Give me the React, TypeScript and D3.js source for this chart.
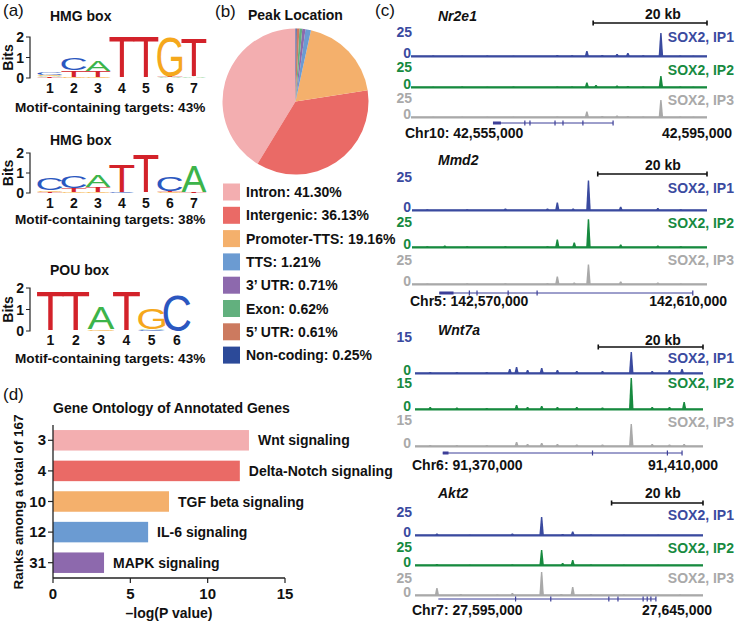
import React, { useMemo } from 'react';
import * as d3 from 'd3';

const FONT = "'Liberation Sans', Arial, Helvetica, sans-serif";

// ---------------- Panel (a): motif logos ----------------
type Stack = [string, number][];
const motifNames = ['HMG box', 'HMG box', 'POU box'];
const motifTargets = ['43%', '38%', '43%'];
const bitTicks = [0, 1, 2];
const motifHMG1: Stack[] = [
  [['T', 0.04], ['A', 0.04], ['G', 0.06], ['C', 0.12]],
  [['G', 0.04], ['T', 0.32], ['C', 0.55]],
  [['G', 0.03], ['T', 0.3], ['A', 0.5]],
  [['T', 1.95]],
  [['T', 1.95]],
  [['A', 0.03], ['T', 0.05], ['G', 1.9]],
  [['A', 0.05], ['T', 1.82]],
];
const motifHMG2: Stack[] = [
  [['T', 0.05], ['G', 0.08], ['C', 0.6]],
  [['G', 0.04], ['T', 0.2], ['C', 0.6]],
  [['G', 0.03], ['T', 0.25], ['A', 0.55]],
  [['C', 0.04], ['T', 1.35]],
  [['T', 1.88]],
  [['G', 0.05], ['T', 0.05], ['C', 0.75]],
  [['T', 0.06], ['A', 1.25]],
];
const motifPOU: Stack[] = [
  [['T', 1.82]],
  [['T', 1.82]],
  [['G', 0.07], ['A', 1.0]],
  [['T', 1.82]],
  [['C', 0.06], ['A', 0.03], ['G', 0.95]],
  [['C', 1.65]],
];
const motifs = [motifHMG1, motifHMG2, motifPOU];
const LOGO_COLORS: Record<string, string> = { A: '#3cb44a', C: '#2b57c0', G: '#f5a81c', T: '#d3222a' };

// ---------------- Panel (b): pie ----------------
const peakCategories = ['Intron', 'Intergenic', 'Promoter-TTS', 'TTS', "3\u2019 UTR", 'Exon', "5\u2019 UTR", 'Non-coding'];
const peakPercents = [41.3, 36.13, 19.16, 1.21, 0.71, 0.62, 0.61, 0.25];
const peakColors = ['#f3aeb0', '#ea6a66', '#f4b06c', '#6b9bd2', '#8d69ad', '#62b07e', '#cc7a5f', '#2c4a99'];

// ---------------- Panel (c): tracks ----------------
const loci = ['Nr2e1', 'Mmd2', 'Wnt7a', 'Akt2'];
const lociChrStart = ['Chr10: 42,555,000', 'Chr5: 142,570,000', 'Chr6: 91,370,000', 'Chr7: 27,595,000'];
const lociChrEnd = ['42,595,000', '142,610,000', '91,410,000', '27,645,000'];
const lociSpanKb = [52, 54, 55, 63];
const lociYMax = [25, 25, 15, 25];
const scaleBarKb = 20;
const trackNames = ['SOX2, IP1', 'SOX2, IP2', 'SOX2, IP3'];
const trackColors = ['#3a4a9f', '#178a3f', '#a9a9a9'];
const zeroLabelColors = [
  ['#3a4a9f', '#178a3f', '#a9a9a9'],
  ['#3a4a9f', '#178a3f', '#a9a9a9'],
  ['#178a3f', '#178a3f', '#a9a9a9'],
  ['#3a4a9f', '#178a3f', '#a9a9a9'],
];
// peaks: [position kb, signal]
const nr2e1IP1 = [[3.9, 1.5], [9.0, 1.3], [13.4, 1.5], [18.0, 1.3], [25.7, 2], [28.3, 1.8], [30.9, 6], [33.6, 2], [36.2, 3], [38.1, 4], [40.8, 1.8], [43.9, 24], [47.3, 1.5], [49.6, 1.2]];
const nr2e1IP2 = [[3.9, 1.3], [9.0, 1.5], [13.4, 1.2], [18.0, 1.5], [25.7, 1.5], [28.3, 1.5], [30.9, 5.5], [32.5, 3], [36.2, 2.5], [38.1, 2], [40.8, 1.5], [43.9, 12], [47.3, 1.5], [49.6, 1.3]];
const nr2e1IP3 = [[3.9, 1.2], [9.0, 1.2], [13.4, 1.3], [18.0, 1.2], [25.7, 1.5], [30.9, 6.5], [33.6, 2], [36.2, 2.5], [38.1, 2], [40.8, 1.5], [43.9, 18], [47.3, 1.5], [49.6, 1.2]];
const mmd2IP1 = [[2.8, 1.5], [10.1, 1.5], [17.1, 2], [24.8, 2], [26.6, 7], [29.5, 2], [32.3, 25.5], [38.2, 3.5], [45.0, 2.5], [49.2, 1.5]];
const mmd2IP2 = [[2.8, 1.5], [6.0, 2], [10.1, 1.5], [17.1, 1.5], [24.8, 1.5], [26.6, 7], [29.7, 4.5], [32.3, 24], [38.2, 3], [45.0, 2], [49.2, 1.5]];
const mmd2IP3 = [[2.8, 1.2], [10.1, 1.5], [17.1, 1.5], [24.8, 1.5], [26.6, 7], [29.7, 2], [32.3, 17], [38.2, 3], [45.0, 2], [49.2, 1.2]];
const wnt7aIP1 = [[2.9, 1], [8.0, 1], [13.7, 1], [18.1, 2.5], [19.4, 3.5], [21.5, 2], [24.2, 3], [27.2, 2], [30.9, 1.5], [35.8, 1.5], [41.3, 11], [45.3, 1.5], [48.6, 2], [51.0, 2.5]];
const wnt7aIP2 = [[2.9, 1.5], [8.0, 1.2], [13.7, 1], [19.4, 2.5], [21.5, 1.5], [24.2, 2], [27.2, 1.5], [30.9, 1.5], [35.8, 1.2], [41.3, 16], [45.3, 1.5], [48.6, 1.5], [51.4, 4]];
const wnt7aIP3 = [[2.9, 1], [8.0, 1], [13.7, 1], [19.4, 2.5], [21.5, 1.5], [24.2, 2], [27.2, 1.5], [30.9, 1.2], [35.8, 1.2], [41.3, 11.5], [45.3, 1.5], [48.6, 1.2], [51.4, 1.5]];
const akt2IP1 = [[4.8, 2.5], [12, 1.2], [21.3, 2.5], [27.7, 19], [32.3, 2], [34.5, 4.5], [38.5, 1.5], [45.7, 1.2], [53.2, 1.2]];
const akt2IP2 = [[4.8, 2], [12, 1.2], [21.3, 1.5], [27.7, 16], [32.3, 3], [34.5, 6], [38.5, 1.5], [45.7, 1.2], [53.2, 1.2]];
const akt2IP3 = [[4.8, 8], [10, 2], [18, 1.5], [21.3, 3], [27.7, 24], [32, 2], [34.5, 9], [38.5, 2], [45.7, 1.5], [53.2, 1.5], [58, 1.5]];
const lociTracks = [
  [nr2e1IP1, nr2e1IP2, nr2e1IP3],
  [mmd2IP1, mmd2IP2, mmd2IP3],
  [wnt7aIP1, wnt7aIP2, wnt7aIP3],
  [akt2IP1, akt2IP2, akt2IP3],
];
// gene models: [start kb, end kb], thick part, exon ticks
const geneSpans = [[14.4, 35.5], [5.0, 51.4], [5.3, 51.0], [5.1, 52.7]];
const geneThick = [[14.4, 15.8], [5.0, 7.6], [5.3, 6.4], [5.1, 5.1]];
const geneExons = [
  [20.0, 20.9, 25.3, 26.7, 30.2, 35.5],
  [10.5, 11.9, 17.6, 22.9, 51.4],
  [33.9, 48.2, 51.0],
  [22.0, 29.7, 42.4, 44.4, 49.9, 50.8, 51.6, 52.7],
];

// ---------------- Panel (d): GO bars ----------------
const goTerms = ['Wnt signaling', 'Delta-Notch signaling', 'TGF beta signaling', 'IL-6 signaling', 'MAPK signaling'];
const goRanks = ['3', '4', '10', '12', '31'];
const goLogP = [12.67, 12.08, 7.5, 6.15, 3.3];
const goColors = ['#f3aeb0', '#ea6a66', '#f4b06c', '#6b9bd2', '#8d69ad'];
const goTicks = [0, 5, 10, 15];

// ---------------- Layout ----------------
const logoLayout = [
  { titleY: 21, base: 78, top2: 37, labelY: 93, targetY: 112, x0: 50, step: 24, w: 25 },
  { titleY: 145, base: 193, top2: 153, labelY: 208, targetY: 224, x0: 50, step: 24, w: 25 },
  { titleY: 275, base: 331, top2: 288, labelY: 345, targetY: 363, x0: 50.5, step: 25.3, w: 27 },
];
const locusLayout = [
  { titleY: 21, barY: 23, barTextY: 19, baselines: [57, 88, 118], topOff: [25, 21, 20], nameOff: [20, 18, 18], geneY: 123, chrY: 138, left: 411, right: 707, chrL: 405, chrR: 732, pxMax: 25 },
  { titleY: 165, barY: 174, barTextY: 170, baselines: [211, 248, 285], topOff: [34, 26, 25], nameOff: [23, 25, 25], geneY: 293, chrY: 306, left: 412, right: 707, chrL: 410, chrR: 727, pxMax: 30 },
  { titleY: 335, barY: 347, barTextY: 345, baselines: [374, 410, 447], topOff: [37, 27, 27], nameOff: [16, 27, 25], geneY: 453, chrY: 470, left: 415, right: 703, chrL: 412, chrR: 718, pxMax: 30 },
  { titleY: 498, barY: 503, barTextY: 498, baselines: [536, 566, 596], topOff: [24, 19, 18], nameOff: [21, 18, 18], geneY: 599, chrY: 615, left: 415, right: 703, chrL: 412, chrR: 712, pxMax: 25 },
];

type GM = { l: number; r: number; a: number; d: number };

function useGlyphMetrics(): Record<string, GM> {
  return useMemo(() => {
    const defaults: Record<string, GM> = {
      A: { l: 0, r: 66.7, a: 71.6, d: 0 },
      C: { l: -5, r: 68, a: 73, d: 1.3 },
      G: { l: -5, r: 72, a: 73, d: 1.3 },
      T: { l: -2.3, r: 59, a: 71.6, d: 0 },
    };
    try {
      const c = document.createElement('canvas');
      const ctx = c.getContext('2d');
      if (!ctx) return defaults;
      ctx.font = `100px ${FONT}`;
      const m: Record<string, GM> = {};
      for (const ch of 'ACGT') {
        const t = ctx.measureText(ch);
        if (!t.actualBoundingBoxAscent) return defaults;
        m[ch] = { l: t.actualBoundingBoxLeft, r: t.actualBoundingBoxRight, a: t.actualBoundingBoxAscent, d: t.actualBoundingBoxDescent };
      }
      return m;
    } catch (e) {
      return defaults;
    }
  }, []);
}

function Logo({ idx, gm }: { idx: number; gm: Record<string, GM> }) {
  const L = logoLayout[idx];
  const data = motifs[idx];
  const y = d3.scaleLinear().domain([0, 2]).range([L.base, L.top2]);
  const x = d3.scaleLinear().domain([0, 1]).range([L.x0, L.x0 + L.step]);
  const letters: JSX.Element[] = [];
  data.forEach((stack, i) => {
    let acc = 0;
    const cx = x(i);
    stack.forEach(([ch, b], j) => {
      const yb = y(acc);
      const yt = y(acc + b);
      acc += b;
      const h = yb - yt;
      if (h < 0.3) return;
      const g = gm[ch];
      const x0 = cx - L.w / 2;
      const sx = L.w / (g.l + g.r);
      const sy = h / (g.a + g.d);
      letters.push(
        <text key={`${i}-${j}`} x={0} y={0} fontSize={100} fontFamily={FONT} fill={LOGO_COLORS[ch]}
          transform={`translate(${x0 + g.l * sx},${yb - g.d * sy}) scale(${sx},${sy})`}>{ch}</text>
      );
    });
  });
  return (
    <g>
      <text x={50} y={L.titleY} fontSize={14} fontWeight="bold">{motifNames[idx]}</text>
      <text transform={`translate(12.5,${(L.base + L.top2) / 2}) rotate(-90)`} textAnchor="middle" fontSize={14} fontWeight="bold">Bits</text>
      <path d={`M26,${y(2)}H30V${y(0)}H26M26,${y(1)}H30`} fill="none" stroke="#222" strokeWidth={1.2} />
      {bitTicks.map((t) => (
        <text key={t} x={24} y={y(t) + 5} textAnchor="end" fontSize={14} fontWeight="bold">{t}</text>
      ))}
      {letters}
      {data.map((_, i) => (
        <text key={i} x={x(i)} y={L.labelY} textAnchor="middle" fontSize={14} fontWeight="bold">{i + 1}</text>
      ))}
      <text x={15} y={L.targetY} fontSize={13.6} fontWeight="bold">{`Motif-containing targets: ${motifTargets[idx]}`}</text>
    </g>
  );
}

function Pie() {
  const cx = 295.5, cy = 101.5, r = 73;
  const pie = d3.pie<number>().sort(null).startAngle(0).endAngle(-2 * Math.PI);
  const arcs = pie(peakPercents);
  const arc = d3.arc<d3.PieArcDatum<number>>().innerRadius(0).outerRadius(r);
  return (
    <g>
      <text x={215} y={17} fontSize={17}>(b)</text>
      <text x={248} y={20} fontSize={14} fontWeight="bold">Peak Location</text>
      <g transform={`translate(${cx},${cy})`}>
        {arcs.map((a, i) => (
          <path key={i} d={arc(a) || ''} fill={peakColors[i]} />
        ))}
      </g>
      {peakCategories.map((c, i) => {
        const yc = 192 + i * 23.3;
        return (
          <g key={c}>
            <rect x={223} y={yc - 8.5} width={17} height={17} fill={peakColors[i]} />
            <text x={246} y={yc + 5} fontSize={14} fontWeight="bold">{`${c}: ${peakPercents[i].toFixed(2)}%`}</text>
          </g>
        );
      })}
    </g>
  );
}

function Locus({ idx }: { idx: number }) {
  const L = locusLayout[idx];
  const x = d3.scaleLinear().domain([0, lociSpanKb[idx]]).range([L.left, L.right]);
  const yh = d3.scaleLinear().domain([0, lociYMax[idx]]).range([0, L.pxMax]);
  const tracks = lociTracks[idx];
  const [gs, ge] = geneSpans[idx];
  const [ts, te] = geneThick[idx];
  const span = lociSpanKb[idx];
  return (
    <g>
      <text x={438} y={L.titleY} fontSize={14} fontWeight="bold" fontStyle="italic">{loci[idx]}</text>
      <text x={645} y={L.barTextY} fontSize={14} fontWeight="bold">20 kb</text>
      <path d={`M${x(span - scaleBarKb)},${L.barY}H${x(span)}M${x(span - scaleBarKb)},${L.barY - 2.5}V${L.barY + 2.5}M${x(span)},${L.barY - 2.5}V${L.barY + 2.5}`} stroke="#111" strokeWidth={1.6} fill="none" />
      {tracks.map((peaks, t) => {
        const b = L.baselines[t];
        const col = trackColors[t];
        return (
          <g key={t}>
            <rect x={L.left} y={b - 1.8} width={L.right - L.left} height={2.3} fill={col} />
            {peaks.map(([p, v], k) => {
              const px = x(p);
              const h = yh(v);
              const hw = 2.3;
              return <path key={k} d={`M${px - hw},${b}L${px - 0.7},${b - h}L${px + 0.7},${b - h}L${px + hw},${b}Z`} fill={col} />;
            })}
            <text x={412} y={b - L.topOff[t] + 5} textAnchor="end" fontSize={14} fontWeight="bold" fill={col}>{lociYMax[idx]}</text>
            <text x={411} y={b + 1} textAnchor="end" fontSize={14} fontWeight="bold" fill={zeroLabelColors[idx][t]}>0</text>
            <text x={734} y={b - L.nameOff[t] + 5} textAnchor="end" fontSize={14} fontWeight="bold" fill={col}>{trackNames[t]}</text>
          </g>
        );
      })}
      <line x1={x(gs)} x2={x(ge)} y1={L.geneY} y2={L.geneY} stroke="#3d3f98" strokeWidth={1} />
      {te > ts && <rect x={x(ts)} y={L.geneY - 1.5} width={x(te) - x(ts)} height={3} fill="#3d3f98" />}
      {geneExons[idx].map((e, k) => (
        <line key={k} x1={x(e)} x2={x(e)} y1={L.geneY - 2.5} y2={L.geneY + 2.5} stroke="#3d3f98" strokeWidth={1.2} />
      ))}
      <text x={L.chrL} y={L.chrY} fontSize={14} fontWeight="bold">{lociChrStart[idx]}</text>
      <text x={L.chrR} y={L.chrY} textAnchor="end" fontSize={14} fontWeight="bold">{lociChrEnd[idx]}</text>
    </g>
  );
}

function GoBars() {
  const x = d3.scaleLinear().domain([0, 15]).range([53, 285]);
  const y = d3.scaleBand<string>().domain(goRanks).range([425, 578]).paddingInner(0.33).paddingOuter(0.165);
  return (
    <g>
      <text x={3} y={400} fontSize={17}>(d)</text>
      <text x={53} y={413} fontSize={14} fontWeight="bold">Gene Ontology of Annotated Genes</text>
      {goRanks.map((r, i) => (
        <g key={r}>
          <rect x={x(0)} y={y(r)!} width={x(goLogP[i]) - x(0)} height={y.bandwidth()} fill={goColors[i]} />
          <text x={x(goLogP[i]) + 9} y={y(r)! + y.bandwidth() / 2 + 5} fontSize={14} fontWeight="bold">{goTerms[i]}</text>
          <line x1={48} x2={53} y1={y(r)! + y.bandwidth() / 2} y2={y(r)! + y.bandwidth() / 2} stroke="#222" strokeWidth={1.2} />
          <text x={46} y={y(r)! + y.bandwidth() / 2 + 5} textAnchor="end" fontSize={15} fontWeight="bold">{r}</text>
        </g>
      ))}
      <line x1={53} x2={53} y1={425} y2={578} stroke="#222" strokeWidth={1.3} />
      <line x1={53} x2={285} y1={578} y2={578} stroke="#222" strokeWidth={1.3} />
      {goTicks.map((t) => (
        <g key={t}>
          <line x1={x(t)} x2={x(t)} y1={578} y2={583} stroke="#222" strokeWidth={1.2} />
          <text x={x(t)} y={599} textAnchor="middle" fontSize={15} fontWeight="bold">{t}</text>
        </g>
      ))}
      <text x={169} y={618} textAnchor="middle" fontSize={14} fontWeight="bold">{'\u2013log(P value)'}</text>
      <text transform="translate(23,502) rotate(-90)" textAnchor="middle" fontSize={13.5} fontWeight="bold">Ranks among a total of 167</text>
    </g>
  );
}

export default function App() {
  const gm = useGlyphMetrics();
  return (
    <svg width={736} height={623} viewBox="0 0 736 623" style={{ position: 'absolute', left: 0, top: 0, background: '#fff' }} fontFamily={FONT} fill="#111">
      <rect x={0} y={0} width={736} height={623} fill="#fff" />
      <text x={3} y={16} fontSize={17}>(a)</text>
      <Logo idx={0} gm={gm} />
      <Logo idx={1} gm={gm} />
      <Logo idx={2} gm={gm} />
      <Pie />
      <text x={375} y={16} fontSize={17}>(c)</text>
      {loci.map((_, i) => <Locus key={i} idx={i} />)}
      <GoBars />
    </svg>
  );
}
